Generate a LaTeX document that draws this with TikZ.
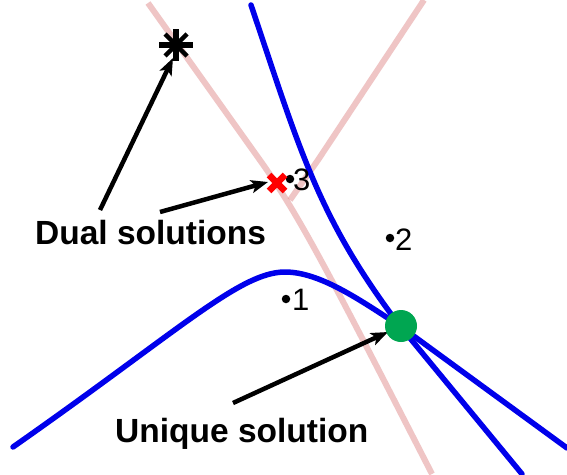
\documentclass[tikz,border=0pt]{standalone}
\usepackage{fontspec}
\setmainfont{Liberation Sans}
\usetikzlibrary{arrows.meta}
\definecolor{curveblue}{RGB}{0,0,235}
\definecolor{pinkline}{RGB}{226,150,150}
\definecolor{solgreen}{RGB}{0,166,81}
\definecolor{xred}{RGB}{255,0,0}
\tikzset{
  bluecurve/.style={draw=curveblue, line width=5.5pt, line cap=round, line join=round},
  pinkcurve/.style={draw=pinkline, line width=6pt, opacity=0.55},
  callout/.style={draw=black, line width=4.5pt, -{Stealth[length=17pt,width=13pt,inset=4pt]}},
  biglabel/.style={inner sep=0pt, anchor=base west, font=\fontsize{33.5}{38}\selectfont\bfseries},
  numlabel/.style={inner sep=0pt, anchor=base west, font=\fontsize{31}{34}\selectfont},
  ptdot/.style={circle, fill=black, inner sep=0pt, minimum size=8.5pt}
}
\begin{document}
\begin{tikzpicture}[x=1pt,y=-1pt]
\useasboundingbox (0,0) rectangle (567,474);
\fill[white] (0,0) rectangle (567,474);

% pink (dual) curves
\draw[pinkcurve] (148,3) -- (262,163) .. controls (300,217) and (330,275) .. (432,474);
\draw[pinkcurve] (424,0) -- (318,160) -- (290,200);

% blue curves
\draw[bluecurve] (251,5) .. controls (300,150) and (318,218) .. (400,326) -- (522,474);
\draw[bluecurve] (13,447) .. controls (180,330) and (240,272) .. (285,272)
                 .. controls (320,272) and (360,300) .. (400,326) -- (567,448);

% point labels
\node[ptdot] (p1) at (286,299) {};
\node[numlabel] (n1) at (292,310) {1};
\node[ptdot] (p2) at (390,238) {};
\node[numlabel] (n2) at (395,250) {2};
\node[ptdot] (p3) at (290,179) {};
\node[numlabel] (n3) at (293,190) {3};

% coordinates for callouts
\coordinate (s1) at (100,210);
\coordinate (t1) at (173,58);
\coordinate (s2) at (160,212);
\coordinate (t2) at (268,182);
\coordinate (s3) at (233,403);
\coordinate (t3) at (388,332);

\draw[callout] (s1) -- (t1);
\draw[callout] (s2) -- (t2);
\draw[callout] (s3) -- (t3);

% star marker
\coordinate (star) at (176,45);
\draw[line width=6.5pt] ([xshift=-17pt]star) -- ([xshift=17pt]star);
\draw[line width=6.5pt] ([yshift=-16pt]star) -- ([yshift=16pt]star);
\draw[line width=4.5pt] ([shift={(-11,-11)}]star) -- ([shift={(11,11)}]star);
\draw[line width=4.5pt] ([shift={(11,-11)}]star) -- ([shift={(-11,11)}]star);

% red cross
\coordinate (xm) at (277,183);
\draw[xred, line width=6.5pt] ([shift={(-8,-8)}]xm) -- ([shift={(8,8)}]xm);
\draw[xred, line width=6.5pt] ([shift={(8,-8)}]xm) -- ([shift={(-8,8)}]xm);

% green unique solution
\node[circle, fill=solgreen, inner sep=0pt, minimum size=32pt] (uniq) at (401,326) {};

% labels
\node[biglabel] (dual) at (35,244) {Dual solutions};
\node[biglabel] (uniquel) at (115,442) {Unique solution};
\end{tikzpicture}
\end{document}
